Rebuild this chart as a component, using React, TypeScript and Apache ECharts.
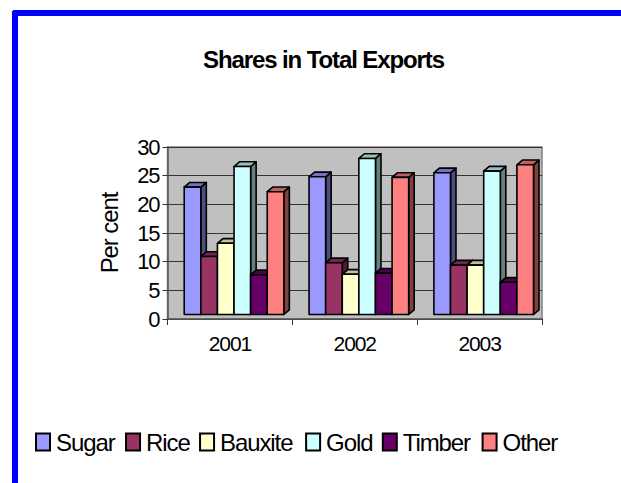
import React, { useEffect, useRef } from "react";
import * as echarts from "echarts";

const categories = ["2001", "2002", "2003"];
const seriesNames = ["Sugar", "Rice", "Bauxite", "Gold", "Timber", "Other"];
const sugar = [23, 24.8, 25.5];
const rice = [10.9, 9.8, 9.4];
const bauxite = [13.2, 7.8, 9.4];
const gold = [26.6, 28, 25.8];
const timber = [7.7, 8, 6.4];
const other = [22.2, 24.7, 26.9];
const seriesValues = [sugar, rice, bauxite, gold, timber, other];
const colors = ["#9999ff", "#993366", "#ffffcc", "#ccffff", "#660066", "#ff8080"];
const topColors = ["#7373bf", "#73264d", "#bfbf99", "#99bfbf", "#4d004d", "#bf6060"];
const sideColors = ["#4d4d80", "#4d1a33", "#808066", "#668080", "#330033", "#804040"];

const FONT = "Liberation Sans";
const DEPTH_X = 5.5;
const DEPTH_Y = 4.7;
const BASE_INSET = 4.5;

function makeRenderItem(idx: number) {
  return (_params: any, api: any) => {
    const cat = api.value(0);
    const pt = api.coord([cat, api.value(1)]);
    const zero = api.coord([cat, 0]);
    const band = api.size([1, 0])[0];
    const w = band * 0.133;
    const x0 = pt[0] - band * 0.366 + idx * w;
    const x1 = x0 + w;
    const yT = pt[1];
    const yB = zero[1] - BASE_INSET;
    const stroke = { stroke: "#000", lineWidth: 1.6, lineJoin: "round" };
    return {
      type: "group",
      children: [
        {
          type: "polygon",
          shape: { points: [[x1, yT], [x1 + DEPTH_X, yT - DEPTH_Y], [x1 + DEPTH_X, yB - DEPTH_Y], [x1, yB]] },
          style: { fill: sideColors[idx], ...stroke },
        },
        {
          type: "polygon",
          shape: { points: [[x0, yT], [x0 + DEPTH_X, yT - DEPTH_Y], [x1 + DEPTH_X, yT - DEPTH_Y], [x1, yT]] },
          style: { fill: topColors[idx], ...stroke },
        },
        {
          type: "rect",
          shape: { x: x0, y: yT, width: w, height: yB - yT },
          style: { fill: colors[idx], ...stroke },
        },
      ],
    };
  };
}

export default function App() {
  const ref = useRef<HTMLDivElement>(null);
  useEffect(() => {
    document.body.style.margin = "0";
    const chart = echarts.init(ref.current!, null, { renderer: "svg" });
    chart.setOption({
      animation: false,
      backgroundColor: "#fff",
      title: {
        text: "Shares in Total Exports",
        left: 318.5,
        top: 42,
        textAlign: "center",
        textStyle: { fontFamily: FONT, fontSize: 24, fontWeight: "bold", color: "#000" },
      },
      grid: {
        left: 167.5,
        right: 79,
        top: 147,
        bottom: 164,
        show: true,
        backgroundColor: "#c0c0c0",
        borderColor: "#808080",
        borderWidth: 1.5,
      },
      legend: {
        left: 30,
        top: 425,
        itemWidth: 14,
        itemHeight: 17,
        itemGap: 5,
        icon: "rect",
        selectedMode: false,
        data: seriesNames,
        textStyle: { fontFamily: FONT, fontSize: 24, color: "#000", padding: [0, 0, 6, 1] },
      },
      xAxis: {
        type: "category",
        data: categories,
        axisLine: { lineStyle: { color: "#595959", width: 1.5 } },
        axisTick: { show: true, length: 6, alignWithLabel: false, lineStyle: { color: "#333", width: 1 } },
        axisLabel: { fontFamily: FONT, fontSize: 21, color: "#000", margin: 14 },
      },
      yAxis: {
        type: "value",
        min: 0,
        max: 30,
        interval: 5,
        name: "Per cent",
        nameLocation: "middle",
        nameRotate: 90,
        nameGap: 46,
        nameTextStyle: { fontFamily: FONT, fontSize: 24, color: "#000" },
        axisLine: { show: true, lineStyle: { color: "#595959", width: 1.5 } },
        axisTick: { show: true, length: 5, lineStyle: { color: "#333", width: 1 } },
        axisLabel: { fontFamily: FONT, fontSize: 22, color: "#000", margin: 8 },
        splitLine: { show: true, lineStyle: { color: "#333", width: 1 } },
      },
      series: seriesNames.map((name, i) => ({
        name,
        type: "custom",
        clip: false,
        renderItem: makeRenderItem(i),
        itemStyle: { color: colors[i], borderColor: "#000", borderWidth: 1.5 },
        encode: { x: 0, y: 1 },
        data: seriesValues[i].map((v, c) => [c, v]),
        z: 5 + i,
      })),
      graphic: [
        { type: "rect", shape: { x: 12, y: 11, width: 6, height: 472 }, style: { fill: "#0000ff" }, silent: true },
        { type: "rect", shape: { x: 13, y: 10, width: 608, height: 6 }, style: { fill: "#0000ff" }, silent: true },
      ],
    });
    return () => chart.dispose();
  }, []);
  return (
    <>
      <style>{"svg text { letter-spacing: -1.1px; }"}</style>
      <div ref={ref} style={{ position: "fixed", left: 0, top: 0, width: 621, height: 483 }} />
    </>
  );
}
